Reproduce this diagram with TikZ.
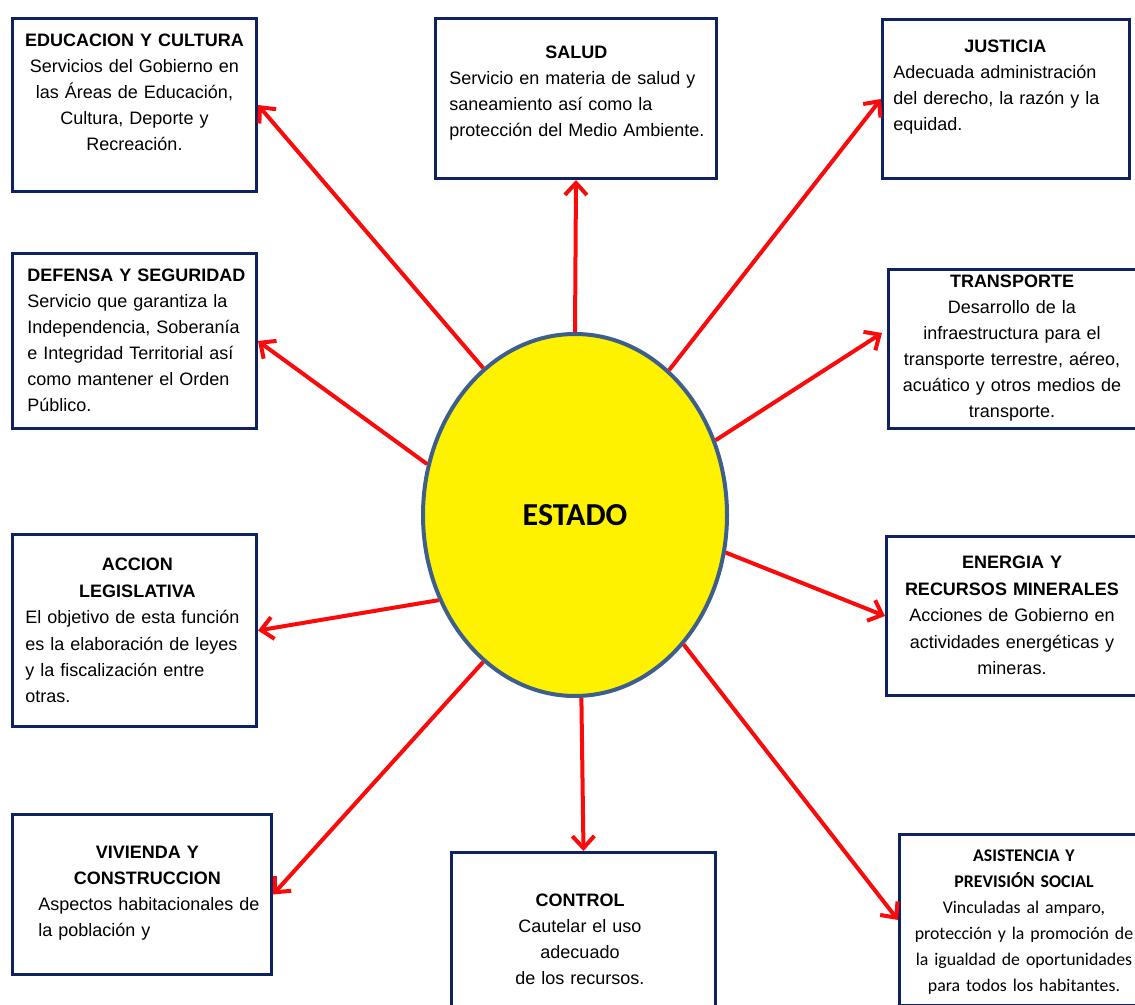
\documentclass[tikz,border=0pt]{standalone}
\usepackage{fontspec}
\setmainfont{Liberation Sans}
\newfontfamily\calibri{Carlito}
\usetikzlibrary{shapes.geometric,arrows.meta}
\definecolor{boxnavy}{RGB}{14,34,96}
\definecolor{rimblue}{RGB}{62,94,140}
\definecolor{arrowred}{RGB}{250,10,10}
\hyphenpenalty=10000
\exhyphenpenalty=10000
\newcommand{\boxtitle}[2]{\makebox[#1]{\bfseries #2}}
\begin{document}
\begin{tikzpicture}[x=0.5pt, y=-0.5pt,
  box/.style={draw=boxnavy, line width=1.5pt, fill=white, rectangle, inner sep=0pt},
  txt/.style={inner sep=0pt, anchor=north, font=\fontsize{9}{13}\selectfont},
  ray/.style={draw=arrowred, line width=2pt, -{Straight Barb[length=6pt, width=11pt, line width=2pt]}}]
\useasboundingbox (0,0) rectangle (1135,1005);

\node (estado) at (575,515) [ellipse, draw=rimblue, line width=2pt, fill=yellow, minimum width=152pt, minimum height=181pt, font=\calibri\bfseries\fontsize{16}{18}\selectfont] {ESTADO};

\node (edu) at (134.5,105) [box, minimum width=122pt, minimum height=86.5pt] {};
\node (salud) at (576,98.5) [box, minimum width=140.5pt, minimum height=80pt] {};
\node (justicia) at (1006,99) [box, minimum width=123.5pt, minimum height=79.5pt] {};
\node (defensa) at (134.5,341) [box, minimum width=122pt, minimum height=87.5pt] {};
\node (transporte) at (1013.5,349) [box, minimum width=125pt, minimum height=79.5pt] {};
\node (accion) at (134.5,630.5) [box, minimum width=122pt, minimum height=96pt] {};
\node (energia) at (1012.5,616) [box, minimum width=126pt, minimum height=79.5pt] {};
\node (vivienda) at (142,894.5) [box, minimum width=129.5pt, minimum height=80pt] {};
\node (control) at (583.5,933) [box, minimum width=132pt, minimum height=80.5pt] {};
\node (asistencia) at (1021.5,920) [box, minimum width=122pt, minimum height=85.5pt] {};

\node (edutxt) at (134.5,34) [txt, text width=120pt, align=center] {\textbf{EDUCACION Y CULTURA}\\Servicios del Gobierno en\\las Áreas de Educación,\\Cultura, Deporte y\\Recreación.};
\node (saludtxt) at (449,46) [txt, anchor=north west, text width=136pt, align=left] {\boxtitle{127pt}{SALUD}\\Servicio en materia de salud y\\saneamiento así como la\\protección del Medio Ambiente.};
\node (justiciatxt) at (893,40) [txt, anchor=north west, text width=118pt, align=left] {\boxtitle{112pt}{JUSTICIA}\\Adecuada administración\\del derecho, la razón y la\\equidad.};
\node (defensatxt) at (27,269) [txt, anchor=north west, text width=120pt, align=left] {\textbf{DEFENSA Y SEGURIDAD}\\Servicio que garantiza la\\Independencia, Soberanía\\e Integridad Territorial así\\como mantener el Orden\\Público.};
\node (transportetxt) at (1012,275) [txt, text width=122pt, align=center] {\textbf{TRANSPORTE}\\Desarrollo de la\\infraestructura para el\\transporte terrestre, aéreo,\\acuático y otros medios de\\transporte.};
\node (acciontxt) at (25,558) [txt, anchor=north west, text width=118pt, align=left, font=\fontsize{9}{13.2}\selectfont] {\boxtitle{112pt}{ACCION}\\\boxtitle{112pt}{LEGISLATIVA}\\El objetivo de esta función\\es la elaboración de leyes\\y la fiscalización entre\\otras.};
\node (energiatxt) at (1012,556) [txt, text width=122pt, align=center, font=\fontsize{9}{13.2}\selectfont] {\textbf{ENERGIA Y}\\\textbf{RECURSOS MINERALES}\\Acciones de Gobierno en\\actividades energéticas y\\mineras.};
\node (viviendatxt) at (38,846) [txt, anchor=north west, text width=118pt, align=left] {\boxtitle{109pt}{VIVIENDA Y}\\\boxtitle{109pt}{CONSTRUCCION}\\Aspectos habitacionales de\\la población y};
\node (controltxt) at (580,894) [txt, text width=125pt, align=center] {\textbf{CONTROL}\\Cautelar el uso\\adecuado\\de los recursos.};
\node (asistenciatxt) at (1024,849) [txt, text width=125pt, align=center, font=\calibri\fontsize{8.9}{13}\selectfont] {\textbf{ASISTENCIA Y}\\\textbf{PREVISIÓN SOCIAL}\\Vinculadas al amparo,\\protección y la promoción de\\la igualdad de oportunidades\\para todos los habitantes.};

\draw[ray] (estado.122) -- (edu.east);
\draw[ray] (estado.90) -- (salud.south);
\draw[ray] (estado.57.6) -- (justicia.west);
\draw[ray] (estado.161.7) -- (defensa.east);
\draw[ray] (estado.28.6) -- ([xshift=-2.5pt, yshift=8pt]transporte.west);
\draw[ray] (estado.212.2) -- (accion.east);
\draw[ray] (estado.346.1) -- (energia.west);
\draw[ray] (estado.238.5) -- (vivienda.east);
\draw[ray] (estado.272) -- (control.north);
\draw[ray] (estado.310.2) -- (asistencia.west);
\end{tikzpicture}
\end{document}
